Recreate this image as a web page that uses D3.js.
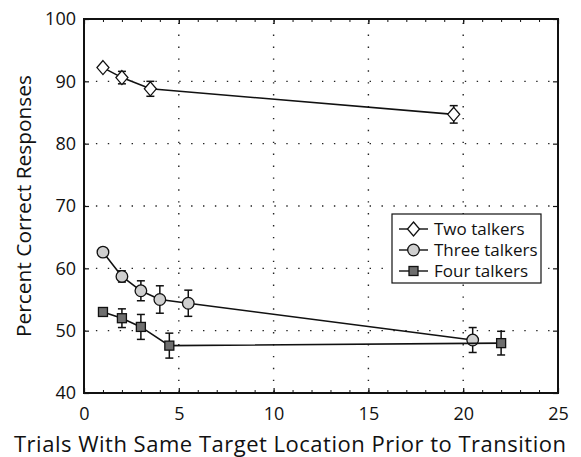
<!DOCTYPE html>
<html><head><meta charset="utf-8">
<script src="https://cdn.jsdelivr.net/npm/d3@7"></script>
<style>body{margin:0;background:#fff}svg{display:block}text{font-family:"Open Sans",sans-serif;fill:#111}</style>
</head><body><svg id="c" width="581" height="457"></svg>
<script>
const seriesNames = ["Two talkers", "Three talkers", "Four talkers"];
const twoX = [1, 2, 3.5, 19.5];
const twoY = [92.2, 90.6, 88.8, 84.7];
const twoErr = [0, 1.0, 1.2, 1.4];
const threeX = [1, 2, 3, 4, 5.5, 20.5];
const threeY = [62.6, 58.7, 56.4, 55.0, 54.4, 48.5];
const threeErr = [0, 0.9, 1.6, 2.2, 2.1, 2.0];
const fourX = [1, 2, 3, 4.5, 22];
const fourY = [53.0, 52.0, 50.6, 47.6, 48.0];
const fourErr = [0, 1.5, 2.0, 2.0, 1.9];
const xTicks = [0, 5, 10, 15, 20, 25];
const yTicks = [40, 50, 60, 70, 80, 90, 100];
const xTitle = "Trials With Same Target Location Prior to Transition";
const yTitle = "Percent Correct Responses";

const svg = d3.select("#c");
const L = 84, T = 19, R = 558, B = 393;
const x = d3.scaleLinear().domain([0, 25]).range([L, R]);
const y = d3.scaleLinear().domain([40, 100]).range([B, T]);

// grid
const grid = svg.append("g").attr("stroke", "#222").attr("stroke-width", 1.4).attr("stroke-dasharray", "1.4,10.5");
xTicks.filter(d => d > 0 && d < 25).forEach(d => grid.append("line").attr("x1", x(d)).attr("x2", x(d)).attr("y1", B).attr("y2", T));
yTicks.filter(d => d > 40 && d < 100).forEach(d => grid.append("line").attr("x1", L).attr("x2", R).attr("y1", y(d)).attr("y2", y(d)));

// axes with inward ticks
const minorX = d3.range(0, 26, 1);
svg.append("g").attr("transform", `translate(0,${B})`)
  .call(d3.axisBottom(x).tickValues(minorX).tickSize(-3).tickFormat(""))
  .call(g => g.select(".domain").remove())
  .call(g => g.selectAll("line").attr("stroke", "#111").attr("stroke-width", 1));
svg.append("g").attr("transform", `translate(0,${T})`)
  .call(d3.axisTop(x).tickValues(minorX).tickSize(-3).tickFormat(""))
  .call(g => g.select(".domain").remove())
  .call(g => g.selectAll("line").attr("stroke", "#111").attr("stroke-width", 1));
const xa = svg.append("g").attr("transform", `translate(0,${B})`)
  .call(d3.axisBottom(x).tickValues(xTicks).tickSize(-5).tickPadding(14).tickFormat(d3.format("d")));
xa.select(".domain").remove();
xa.selectAll("text").attr("font-size", 18).attr("font-family", "Open Sans").attr("fill", "#111");
xa.selectAll("line").attr("stroke", "#111").attr("stroke-width", 1.2);
svg.append("g").attr("transform", `translate(0,${T})`)
  .call(d3.axisTop(x).tickValues(xTicks).tickSize(-5).tickFormat(""))
  .call(g => g.select(".domain").remove())
  .call(g => g.selectAll("line").attr("stroke", "#111").attr("stroke-width", 1.2));
const ya = svg.append("g").attr("transform", `translate(${L},0)`)
  .call(d3.axisLeft(y).tickValues(yTicks).tickSize(-5).tickPadding(8).tickFormat(d3.format("d")));
ya.select(".domain").remove();
ya.selectAll("text").attr("font-size", 18).attr("font-family", "Open Sans").attr("fill", "#111");
ya.selectAll("line").attr("stroke", "#111").attr("stroke-width", 1.2);
svg.append("g").attr("transform", `translate(${R},0)`)
  .call(d3.axisRight(y).tickValues(yTicks).tickSize(-5).tickFormat(""))
  .call(g => g.select(".domain").remove())
  .call(g => g.selectAll("line").attr("stroke", "#111").attr("stroke-width", 1.2));

svg.append("rect").attr("x", L).attr("y", T).attr("width", R - L).attr("height", B - T)
  .attr("fill", "none").attr("stroke", "#111").attr("stroke-width", 2);

// titles
svg.append("text").attr("x", 290).attr("y", 452).attr("text-anchor", "middle").attr("font-size", 22)
  .attr("textLength", 552).attr("lengthAdjust", "spacing").text(xTitle);
svg.append("text").attr("transform", `translate(31,${(T + B) / 2}) rotate(-90)`).attr("text-anchor", "middle").attr("font-size", 20)
  .attr("textLength", 262).attr("lengthAdjust", "spacingAndGlyphs").text(yTitle);

// series
const symbols = {
  diamond: (g, cx, cy) => g.append("path").attr("d", `M${cx},${cy - 7}L${cx + 6},${cy}L${cx},${cy + 7}L${cx - 6},${cy}Z`).attr("fill", "#fff"),
  circle: (g, cx, cy) => g.append("circle").attr("cx", cx).attr("cy", cy).attr("r", 5.8).attr("fill", "#cfcfcf"),
  square: (g, cx, cy) => g.append("rect").attr("x", cx - 4.5).attr("y", cy - 4.5).attr("width", 9).attr("height", 9).attr("fill", "#6e6e6e")
};
const series = [
  { name: seriesNames[0], xs: twoX, ys: twoY, es: twoErr, sym: "diamond" },
  { name: seriesNames[1], xs: threeX, ys: threeY, es: threeErr, sym: "circle" },
  { name: seriesNames[2], xs: fourX, ys: fourY, es: fourErr, sym: "square" }
];
const line = d3.line().x(d => x(d[0])).y(d => y(d[1]));
series.forEach(s => {
  const pts = s.xs.map((v, i) => [v, s.ys[i], s.es[i]]);
  const g = svg.append("g");
  g.append("path").attr("d", line(pts)).attr("fill", "none").attr("stroke", "#111").attr("stroke-width", 1.6);
  pts.forEach(p => {
    if (p[2] > 0) {
      const cx = x(p[0]), y1 = y(p[1] + p[2]), y2 = y(p[1] - p[2]);
      const eg = g.append("g").attr("stroke", "#111").attr("stroke-width", 1.5);
      eg.append("line").attr("x1", cx).attr("x2", cx).attr("y1", y1).attr("y2", y2);
      eg.append("line").attr("x1", cx - 4).attr("x2", cx + 4).attr("y1", y1).attr("y2", y1);
      eg.append("line").attr("x1", cx - 4).attr("x2", cx + 4).attr("y1", y2).attr("y2", y2);
    }
  });
  pts.forEach(p => symbols[s.sym](g, x(p[0]), y(p[1])).attr("stroke", "#111").attr("stroke-width", 1.3));
});

// legend
const lg = svg.append("g");
lg.append("rect").attr("x", 392).attr("y", 214).attr("width", 149).attr("height", 69)
  .attr("fill", "#fff").attr("stroke", "#111").attr("stroke-width", 1.2);
series.forEach((s, i) => {
  const cy = 229 + i * 21;
  lg.append("line").attr("x1", 399).attr("x2", 428).attr("y1", cy).attr("y2", cy).attr("stroke", "#111").attr("stroke-width", 1.4);
  symbols[s.sym](lg, 413.5, cy).attr("stroke", "#111").attr("stroke-width", 1.3);
  lg.append("text").attr("x", 434).attr("y", cy).attr("dy", "0.35em").attr("font-size", 17).text(s.name);
});
</script></body></html>
